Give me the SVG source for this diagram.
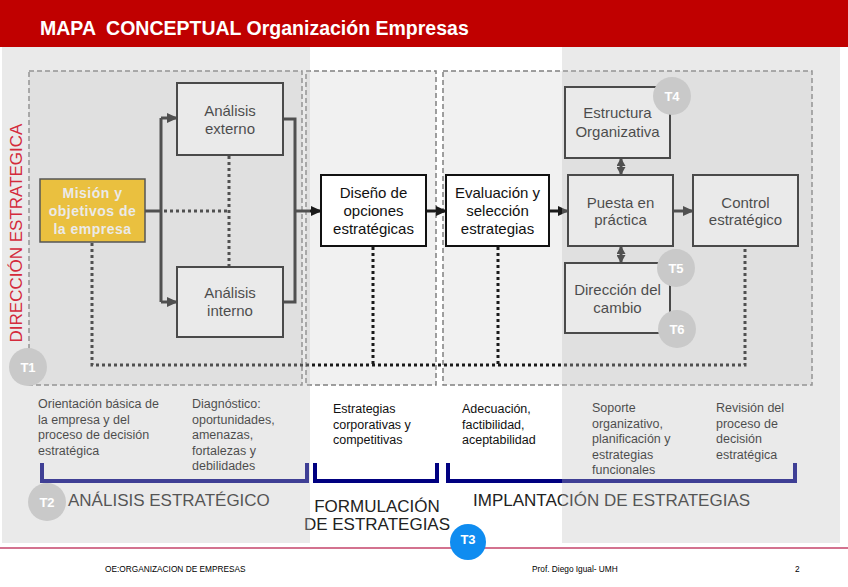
<svg xmlns="http://www.w3.org/2000/svg" width="848" height="587" viewBox="0 0 848 587">
<defs>
<marker id="ah" markerUnits="userSpaceOnUse" markerWidth="11" markerHeight="10" refX="10" refY="5" orient="auto"><path d="M0,0 L11,5 L0,10 Z" fill="#1a1a1a"/></marker>
<marker id="ahs" markerUnits="userSpaceOnUse" markerWidth="8" markerHeight="9" refX="7" refY="4.5" orient="auto-start-reverse"><path d="M0,0 L8,4.5 L0,9 Z" fill="#1a1a1a"/></marker>
<style>
text{font-family:"Liberation Sans",Arial,sans-serif}
.zone{fill:#000;fill-opacity:0.055;stroke:#808080;stroke-width:1.5;stroke-dasharray:5 3}
.box{fill:#fff;stroke:#111;stroke-width:2}
.bt{font-size:15px;fill:#111;text-anchor:middle}
.solid{fill:none;stroke:#1a1a1a;stroke-width:3}
.dot{fill:none;stroke:#1a1a1a;stroke-width:3;stroke-dasharray:3 3}
.desc{font-size:12.5px;fill:#111}
.phase{font-size:17px;fill:#222}
.br{fill:none;stroke:#000080;stroke-width:4}
.ov{fill:#c0c0c0;fill-opacity:0.33}
.tc{fill:#c9c9c9}
.tt{font-size:13px;font-weight:bold;fill:#fff;text-anchor:middle}
.ft{font-size:8.3px;fill:#000}
</style>
</defs>
<rect x="0" y="0" width="848" height="587" fill="#fff"/>
<g id="zones">
<rect class="zone" x="29" y="71" width="273" height="314"/>
<rect class="zone" x="306" y="71" width="130" height="314"/>
<rect class="zone" x="443" y="71" width="369" height="314"/>
</g>
<g id="connectors">
<path class="solid" d="M145,211 H161 M161,118 V302"/>
<path class="solid" d="M161,118 H177" marker-end="url(#ah)"/>
<path class="solid" d="M161,302 H177" marker-end="url(#ah)"/>
<path class="dot" d="M164,211 H229 M229,156 V267"/>
<path class="solid" d="M283,119 H295 V302 H283"/>
<path class="solid" d="M295,211 H321" marker-end="url(#ah)"/>
<path class="solid" d="M426,211 H446" marker-end="url(#ah)"/>
<path class="solid" d="M549,211 H568" marker-end="url(#ah)"/>
<path class="solid" d="M673,211 H693" marker-end="url(#ah)"/>
<path class="solid" d="M621,159 V174" marker-start="url(#ahs)" marker-end="url(#ahs)"/>
<path class="solid" d="M621,247 V262" marker-start="url(#ahs)" marker-end="url(#ahs)"/>
<path class="dot" d="M92,243 V365 H745 V247 M373,247 V365 M498,247 V365"/>
</g>
<g id="mision">
<rect x="40" y="179" width="105" height="63" fill="#ffc000" stroke="#222" stroke-width="1.5"/>
<text x="92.5" y="198" font-size="14" font-weight="bold" fill="#fff" text-anchor="middle" letter-spacing="0.5">Misión y</text>
<text x="92.5" y="216" font-size="14" font-weight="bold" fill="#fff" text-anchor="middle" letter-spacing="0.5">objetivos de</text>
<text x="92.5" y="234" font-size="14" font-weight="bold" fill="#fff" text-anchor="middle" letter-spacing="0.5">la empresa</text>
</g>
<g id="analisis-externo">
<rect class="box" x="177" y="83" width="106" height="72"/>
<text class="bt" x="230" y="116">Análisis</text>
<text class="bt" x="230" y="134">externo</text>
</g>
<g id="analisis-interno">
<rect class="box" x="177" y="267" width="106" height="70"/>
<text class="bt" x="230" y="298">Análisis</text>
<text class="bt" x="230" y="316">interno</text>
</g>
<g id="diseno">
<rect class="box" x="321" y="175" width="105" height="71"/>
<text class="bt" x="373.5" y="198">Diseño de</text>
<text class="bt" x="373.5" y="216">opciones</text>
<text class="bt" x="373.5" y="234">estratégicas</text>
</g>
<g id="evaluacion">
<rect class="box" x="446" y="175" width="103" height="71"/>
<text class="bt" x="497.5" y="198">Evaluación y</text>
<text class="bt" x="497.5" y="216">selección</text>
<text class="bt" x="497.5" y="234">estrategias</text>
</g>
<g id="estructura">
<rect class="box" x="565" y="87" width="105" height="71"/>
<text class="bt" x="617.5" y="118">Estructura</text>
<text class="bt" x="617.5" y="137">Organizativa</text>
</g>
<g id="puesta">
<rect class="box" x="568" y="175" width="105" height="71"/>
<text class="bt" x="620.5" y="208">Puesta en</text>
<text class="bt" x="620.5" y="225">práctica</text>
</g>
<g id="control">
<rect class="box" x="693" y="175" width="105" height="71"/>
<text class="bt" x="745.5" y="208">Control</text>
<text class="bt" x="745.5" y="225">estratégico</text>
</g>
<g id="direccion-cambio">
<rect class="box" x="565" y="263" width="105" height="70"/>
<text class="bt" x="617.5" y="295">Dirección del</text>
<text class="bt" x="617.5" y="313">cambio</text>
</g>
<g id="descriptions">
<text class="desc" x="38" y="408">Orientación básica de</text>
<text class="desc" x="38" y="423.5">la empresa y del</text>
<text class="desc" x="38" y="439">proceso de decisión</text>
<text class="desc" x="38" y="454.5">estratégica</text>
<text class="desc" x="192" y="408">Diagnóstico:</text>
<text class="desc" x="192" y="423.5">oportunidades,</text>
<text class="desc" x="192" y="439">amenazas,</text>
<text class="desc" x="192" y="454.5">fortalezas y</text>
<text class="desc" x="192" y="470">debilidades</text>
<text class="desc" x="333" y="413">Estrategias</text>
<text class="desc" x="333" y="428.5">corporativas y</text>
<text class="desc" x="333" y="444">competitivas</text>
<text class="desc" x="462" y="413">Adecuación,</text>
<text class="desc" x="462" y="428.5">factibilidad,</text>
<text class="desc" x="462" y="444">aceptabilidad</text>
<text class="desc" x="592" y="412">Soporte</text>
<text class="desc" x="592" y="427.5">organizativo,</text>
<text class="desc" x="592" y="443">planificación y</text>
<text class="desc" x="592" y="458.5">estrategias</text>
<text class="desc" x="592" y="474">funcionales</text>
<text class="desc" x="716" y="412">Revisión del</text>
<text class="desc" x="716" y="427.5">proceso de</text>
<text class="desc" x="716" y="443">decisión</text>
<text class="desc" x="716" y="458.5">estratégica</text>
</g>
<g id="brackets">
<path class="br" d="M42,463 V481 H307 V463"/>
<path class="br" d="M315,463 V481 H437 V463"/>
<path class="br" d="M448,463 V481 H795 V463"/>
</g>
<g id="phases">
<text class="phase" x="68" y="506">ANÁLISIS ESTRATÉGICO</text>
<text class="phase" x="377" y="512" text-anchor="middle">FORMULACIÓN</text>
<text class="phase" x="377" y="530" text-anchor="middle">DE ESTRATEGIAS</text>
<text class="phase" x="473" y="506">IMPLANTACIÓN DE ESTRATEGIAS</text>
</g>
<g id="overlays">
<rect class="ov" x="2" y="47" width="308" height="496"/>
<rect class="ov" x="562" y="47" width="278" height="496"/>
</g>
<g id="side-label">
<text transform="translate(22,233) rotate(-90)" font-size="17" fill="#d42a3c" text-anchor="middle">DIRECCIÓN ESTRATEGICA</text>
</g>
<g id="t1"><circle class="tc" cx="28" cy="367" r="19"/><text class="tt" x="28" y="372">T1</text></g>
<g id="t2"><circle class="tc" cx="47" cy="502" r="19"/><text class="tt" x="47" y="507">T2</text></g>
<g id="t4"><circle class="tc" cx="672" cy="96" r="19"/><text class="tt" x="672" y="101">T4</text></g>
<g id="t5"><circle class="tc" cx="676" cy="268" r="19"/><text class="tt" x="676" y="273">T5</text></g>
<g id="t6"><circle class="tc" cx="677" cy="329" r="19"/><text class="tt" x="677" y="334">T6</text></g>
<g id="header">
<rect x="0" y="0" width="848" height="47" fill="#c00000"/>
<text x="40" y="35" font-size="19.5" font-weight="bold" fill="#fff" style="white-space:pre">MAPA  CONCEPTUAL Organización Empresas</text>
</g>
<g id="footer">
<line x1="0" y1="548" x2="848" y2="548" stroke="#c4436a" stroke-width="1.5"/>
<text class="ft" x="105" y="572">OE:ORGANIZACION DE EMPRESAS</text>
<text class="ft" x="532" y="572">Prof. Diego Igual- UMH</text>
<text class="ft" x="795" y="572">2</text>
</g>
<g id="t3"><circle cx="468" cy="542" r="18" fill="#0f8cf0"/><text class="tt" x="468" y="544">T3</text></g>
</svg>
